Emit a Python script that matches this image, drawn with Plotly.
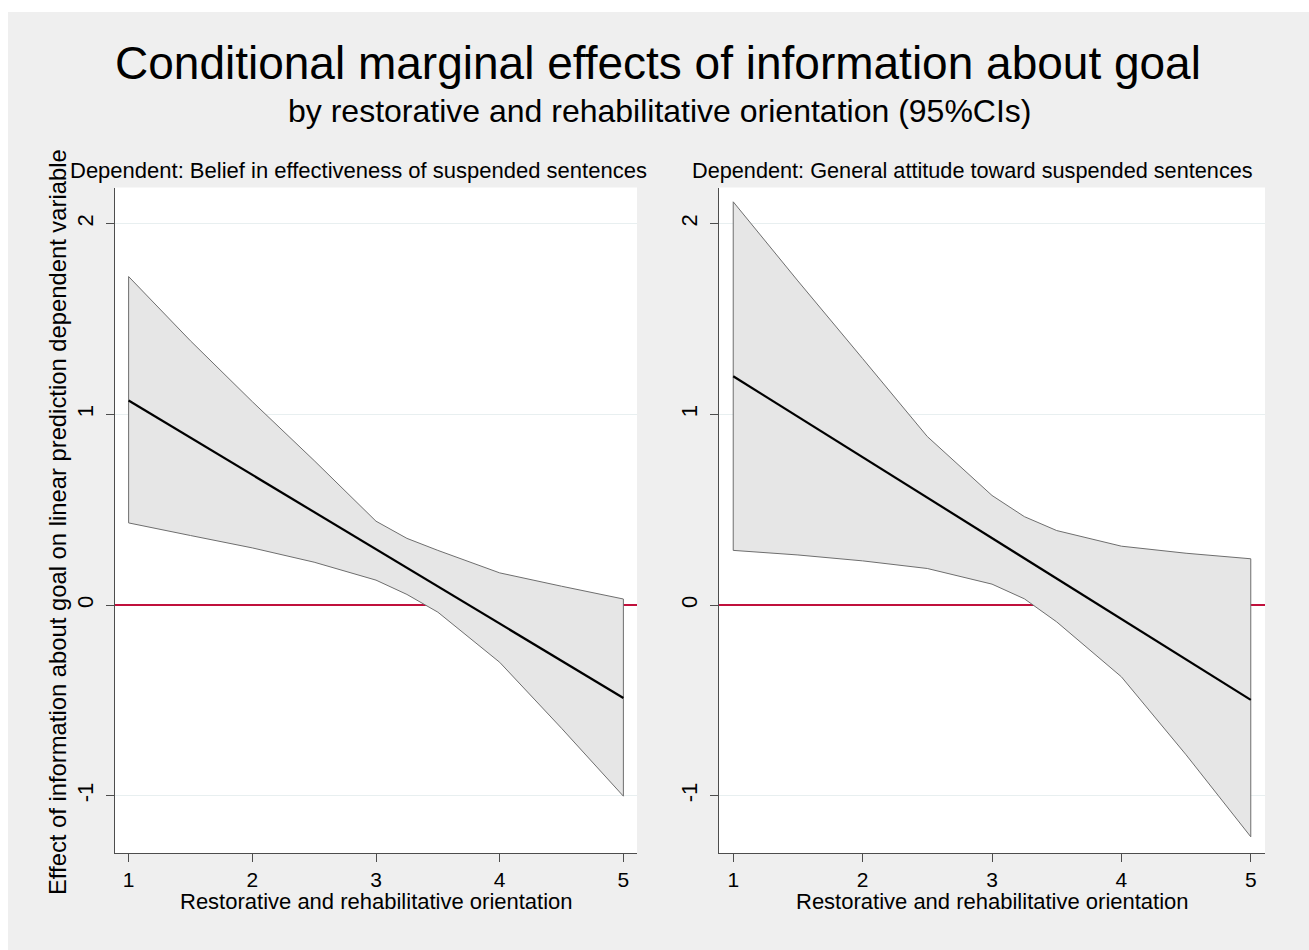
import plotly.graph_objects as go

# ---- data ----
x_vals = [1.0, 1.5, 2.0, 2.5, 3.0, 3.25, 3.5, 4.0, 4.5, 5.0]

# Left panel: Belief in effectiveness of suspended sentences
left_effect = [1.073, 0.878, 0.683, 0.488, 0.293, 0.195, 0.098, -0.097, -0.292, -0.487]
left_upper = [1.723, 1.386, 1.067, 0.758, 0.440, 0.350, 0.287, 0.169, 0.099, 0.032]
left_lower = [0.431, 0.365, 0.300, 0.225, 0.131, 0.056, -0.037, -0.300, -0.646, -1.002]

# Right panel: General attitude toward suspended sentences
right_effect = [1.200, 0.988, 0.775, 0.563, 0.350, 0.244, 0.138, -0.074, -0.285, -0.497]
right_upper = [2.115, 1.700, 1.293, 0.884, 0.575, 0.464, 0.391, 0.309, 0.272, 0.243]
right_lower = [0.287, 0.263, 0.232, 0.192, 0.110, 0.033, -0.088, -0.376, -0.785, -1.215]

x_ticks = [1, 2, 3, 4, 5]
y_ticks = [-1, 0, 1, 2]
y_tick_labels = ["-1", "0", "1", "2"]

main_title = "Conditional marginal effects of information about goal"
sub_title = "by restorative and rehabilitative orientation (95%CIs)"
panel_titles = ["Dependent: Belief in effectiveness of suspended sentences",
                "Dependent: General attitude toward suspended sentences"]
x_title = "Restorative and rehabilitative orientation"
y_title = "Effect of information about goal on linear prediction dependent variable"

# ---- layout constants ----
# figure slightly larger than the 1309x950 window so the gray reaches every edge
W, H = 1330, 975
FONT = "Arial, Liberation Sans, sans-serif"
BAND_FILL = "#e6e6e6"
BAND_LINE = "#6e6e6e"
GRID = "#e8eff0"
ZERO = "#c0103c"
AXIS = "#4d4d4d"
BG = "#efefef"


def px_x(p):
    return p / W


def px_y(p):
    return 1 - p / H


fig = go.Figure()

panels = [
    (left_effect, left_upper, left_lower, "x", "y"),
    (right_effect, right_upper, right_lower, "x2", "y2"),
]
for eff, up, lo, xa, ya in panels:
    fig.add_trace(go.Scatter(
        x=x_vals + x_vals[::-1] + [x_vals[0]],
        y=up + lo[::-1] + [up[0]],
        fill="toself", fillcolor=BAND_FILL,
        line=dict(color=BAND_LINE, width=1),
        mode="lines", hoverinfo="skip", showlegend=False,
        xaxis=xa, yaxis=ya,
    ))
    fig.add_trace(go.Scatter(
        x=x_vals, y=eff, mode="lines",
        line=dict(color="black", width=2.2),
        showlegend=False, xaxis=xa, yaxis=ya,
    ))

x_range = [0.89, 5.11]
y_range = [-1.30, 2.19]

xaxis_common = dict(
    range=x_range, tickvals=x_ticks, ticks="outside", ticklen=8,
    tickcolor=AXIS, tickwidth=1, showline=True, linecolor=AXIS, linewidth=1,
    showgrid=False, zeroline=False,
    tickfont=dict(family=FONT, size=21, color="black"),
)
yaxis_common = dict(
    range=y_range, tickvals=y_ticks, ticktext=y_tick_labels,
    ticks="outside", ticklen=8, ticklabelstandoff=4,
    tickcolor=AXIS, tickwidth=1, showline=True, linecolor=AXIS, linewidth=1,
    showgrid=True, gridcolor=GRID, gridwidth=1,
    zeroline=True, zerolinecolor=ZERO, zerolinewidth=1.6,
    tickangle=-90,
    tickfont=dict(family=FONT, size=22, color="black"),
)

fig.update_layout(
    width=W, height=H,
    margin=dict(l=0, r=0, t=0, b=0),
    paper_bgcolor=BG, plot_bgcolor="white",
    xaxis=dict(domain=[px_x(115), px_x(637)], anchor="y", **xaxis_common),
    yaxis=dict(domain=[px_y(853), px_y(187.5)], anchor="x", **yaxis_common),
    xaxis2=dict(domain=[px_x(719), px_x(1265)], anchor="y2", **xaxis_common),
    yaxis2=dict(domain=[px_y(853), px_y(187.5)], anchor="x2", **yaxis_common),
    showlegend=False,
)

# white strips on top and left, as in the reference
fig.add_shape(type="rect", xref="paper", yref="paper",
              x0=0, x1=1.0, y0=px_y(12), y1=1.0,
              fillcolor="white", line=dict(width=0), layer="below")
fig.add_shape(type="rect", xref="paper", yref="paper",
              x0=0, x1=px_x(8), y0=0, y1=1.0,
              fillcolor="white", line=dict(width=0), layer="below")


def note(text, x, y, size, angle=0):
    fig.add_annotation(text=text, xref="paper", yref="paper",
                       x=px_x(x), y=px_y(y), xanchor="center", yanchor="middle",
                       showarrow=False, textangle=angle,
                       font=dict(family=FONT, size=size, color="black"))


note(main_title, 658, 63, 46)
note(sub_title, 659, 111, 32)
note(panel_titles[0], 358, 170, 22)
note(panel_titles[1], 972, 170, 21.7)
note(y_title, 57, 522, 23.8, angle=-90)
note(x_title, 376, 901, 22)
note(x_title, 992, 901, 22)

fig.write_html(
    "out.html",
    config={"displayModeBar": False},
    post_script="document.body.style.margin='0';document.body.style.overflow='hidden';",
)
